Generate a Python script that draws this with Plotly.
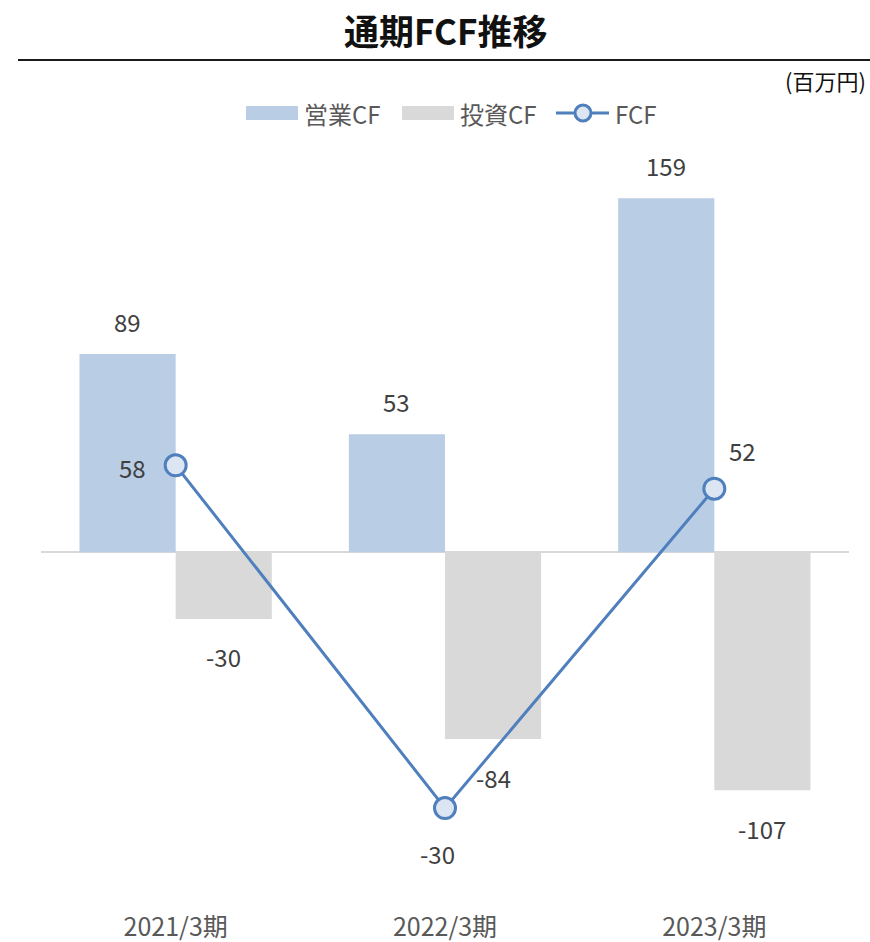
import plotly.graph_objects as go

categories = ["2021/3期", "2022/3期", "2023/3期"]
operating_cf = [89, 53, 159]
investing_cf = [-30, -84, -107]
fcf = [58, -30, 52]

W, H = 870, 942
L, R, T, B = 41, 21, 107, 56
PW, PH = W - L - R, H - T - B

def px(x):
    return (x - L) / PW

def py(y):
    return (H - B - y) / PH

FONT = "Noto Sans CJK JP"
BLUE = "#b9cde5"
GRAY = "#d9d9d9"
LINE = "#4f7fbd"
TXT = "#404040"
LBL = 24

fig = go.Figure()
fig.add_trace(go.Bar(x=categories, y=operating_cf, name="営業CF", marker_color=BLUE,
                     marker_line_width=0, yaxis="y"))
fig.add_trace(go.Bar(x=categories, y=investing_cf, name="投資CF", marker_color=GRAY,
                     marker_line_width=0, yaxis="y"))
fig.add_trace(go.Scatter(x=categories, y=fcf, name="FCF", mode="lines+markers", yaxis="y2",
                         line=dict(color=LINE, width=3),
                         marker=dict(size=21, color="#dce6f2", line=dict(color=LINE, width=3))))

ann = []
bar_off = PW / 3 * (1 - 0.286) / 4
for c, v in zip(categories, operating_cf):
    ann.append(dict(x=c, y=v, xref="x", yref="y", text=str(v), showarrow=False,
                    xshift=-bar_off, yshift=33, font=dict(size=LBL, color=TXT, family=FONT)))
for c, v in zip(categories, investing_cf):
    ann.append(dict(x=c, y=v, xref="x", yref="y", text=str(v), showarrow=False,
                    xshift=bar_off, yshift=-38, font=dict(size=LBL, color=TXT, family=FONT)))
fcf_shifts = [(-43, -2), (-8, -45), (28, 38)]
for c, v, (dx, dy) in zip(categories, fcf, fcf_shifts):
    ann.append(dict(x=c, y=v, xref="x", yref="y2", text=str(v), showarrow=False,
                    xshift=dx, yshift=dy, font=dict(size=LBL, color=TXT, family=FONT)))

# title, unit
ann.append(dict(x=px(446), y=py(30), xref="paper", yref="paper", text="<b>通期FCF推移</b>",
                showarrow=False, xanchor="center", yanchor="middle",
                font=dict(size=35, color="#111111", family=FONT)))
ann.append(dict(x=px(868), y=py(80), xref="paper", yref="paper", text="(百万円)", showarrow=False,
                xanchor="right", yanchor="middle", font=dict(size=22, color="#111111", family=FONT)))

shapes = [dict(type="line", xref="paper", yref="paper", x0=px(18), x1=px(870), y0=py(60), y1=py(60),
               line=dict(color="#1a1a1a", width=2))]

# manual legend
shapes.append(dict(type="rect", xref="paper", yref="paper", x0=px(246), x1=px(298), y0=py(120), y1=py(106),
                   fillcolor=BLUE, line_width=0))
shapes.append(dict(type="rect", xref="paper", yref="paper", x0=px(402), x1=px(454), y0=py(120), y1=py(106),
                   fillcolor=GRAY, line_width=0))
shapes.append(dict(type="line", xref="paper", yref="paper", x0=px(556), x1=px(609), y0=py(113), y1=py(113),
                   line=dict(color=LINE, width=3)))
shapes.append(dict(type="circle", xref="paper", yref="paper", x0=px(575), x1=px(591), y0=py(121), y1=py(105),
                   fillcolor="#dce6f2", line=dict(color=LINE, width=3)))
for x, t in [(302, "営業CF"), (458, "投資CF"), (613, "FCF")]:
    ann.append(dict(x=px(x), y=py(113), xref="paper", yref="paper", text=t, showarrow=False,
                    xanchor="left", yanchor="middle", font=dict(size=24, color="#595959", family=FONT)))

fig.update_layout(
    width=W, height=H, margin=dict(l=L, r=R, t=T, b=B, autoexpand=False),
    paper_bgcolor="white", plot_bgcolor="white",
    barmode="group", bargap=0.286, bargroupgap=0,
    showlegend=False, annotations=ann, shapes=shapes,
    font=dict(family=FONT, color=TXT),
    xaxis=dict(showline=False, showgrid=False, ticks="", ticklabelstandoff=24, automargin=False,
               tickfont=dict(size=25, color="#595959", family=FONT)),
    yaxis=dict(range=[-150, 200], showgrid=False, showticklabels=False, zeroline=True, automargin=False,
               zerolinecolor="#d9d9d9", zerolinewidth=2, showline=False),
    yaxis2=dict(range=[-50, 150], overlaying="y", side="right", showgrid=False, automargin=False,
                showticklabels=False, zeroline=False, showline=False),
)

fig.write_html("out.html", post_script="document.body.style.margin='0';",
               config={"displayModeBar": False})
